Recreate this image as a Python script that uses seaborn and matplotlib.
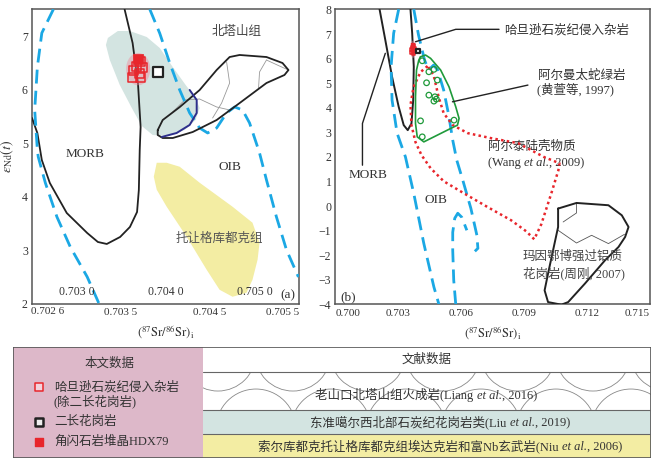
import numpy as np
import pandas as pd
import seaborn as sns
import matplotlib.pyplot as plt
from matplotlib.patches import Ellipse, Rectangle, Circle
from matplotlib.offsetbox import TextArea, HPacker, AnnotationBbox

sns.set_theme(style='white')
plt.rcParams['font.family'] = ['Liberation Serif', 'Noto Sans CJK SC']
plt.rcParams['mathtext.fontset'] = 'stix'

# ---------------- data ----------------
# this study: Hadanxun Carboniferous intrusive complex (open red squares)
hdx_sr = [0.703722, 0.703744, 0.703643, 0.703711, 0.703632, 0.703722, 0.703677]
hdx_nd = [6.515, 6.403, 6.365, 6.309, 6.234, 6.216, 6.440]
# hornblendite cumulate HDX79 (filled red square)
hbl_sr = [0.703688]
hbl_nd = [6.571]
# monzogranite (black square)
mzg_sr = [0.703912]
mzg_nd = [6.328]

# panel (a) fields
morb_a_x = [0.7025, 0.70256, 0.70261, 0.70270, 0.70289, 0.70312, 0.70324, 0.70334, 0.70349,
            0.70360, 0.70368, 0.70370, 0.70371, 0.70372, 0.70369, 0.70363, 0.70354]
morb_a_y = [5.468, 5.186, 4.682, 4.253, 3.692, 3.318, 3.150, 3.113, 3.244,
            3.431, 3.711, 4.122, 4.870, 5.300, 6.122, 6.870, 7.5]
oib_l_a_x = [0.70274, 0.70261, 0.70256, 0.70253, 0.70256, 0.70257, 0.70265, 0.70278, 0.70293, 0.70312, 0.70326]
oib_l_a_y = [7.5, 7.057, 6.421, 5.616, 4.869, 4.74, 4.254, 3.618, 3.057, 2.497, 1.97]
oib_r_a_x = [0.703823, 0.703935, 0.704047, 0.704159, 0.704271, 0.704383, 0.704473, 0.704574, 0.704686,
             0.704776, 0.704865, 0.704944, 0.705034, 0.705056, 0.705134, 0.705246, 0.705359, 0.705493]
oib_r_a_y = [7.5, 7.051, 6.496, 5.992, 5.562, 5.281, 5.188, 5.281, 5.562,
             5.674, 5.618, 5.375, 4.926, 4.814, 4.310, 3.618, 3.001, 2.496]
edj_x = [0.703352, 0.703464, 0.703599, 0.703789, 0.703935, 0.704081, 0.704226, 0.704338, 0.704383,
         0.704338, 0.704215, 0.704025, 0.703856, 0.703733, 0.703621, 0.703486, 0.703374, 0.703330]
edj_y = [6.964, 7.094, 7.094, 6.982, 6.777, 6.421, 6.085, 5.842, 5.655,
         5.431, 5.244, 5.132, 5.150, 5.319, 5.655, 6.085, 6.552, 6.833]
bts_x = [0.703912, 0.703968, 0.704159, 0.704383, 0.704574, 0.704720, 0.704832, 0.705134, 0.705314,
         0.705381, 0.705336, 0.705134, 0.704832, 0.704574, 0.704305, 0.704081, 0.703968, 0.703912]
bts_y = [5.242, 5.430, 5.672, 5.991, 6.365, 6.608, 6.646, 6.608, 6.496,
         6.365, 6.272, 6.122, 5.747, 5.430, 5.206, 5.094, 5.094, 5.150]
bts_inner_x = [0.704271, 0.704350, 0.704350, 0.704271, 0.704125, 0.703957]
bts_inner_y = [5.992, 5.805, 5.562, 5.338, 5.188, 5.113]
bts_hatch = [
    ([0.704081, 0.704215, 0.704383, 0.704574, 0.704720], [5.580, 5.805, 5.823, 5.674, 5.618]),
    ([0.704686, 0.704720, 0.704630, 0.704529], [6.515, 6.122, 5.747, 5.468]),
    ([0.705134, 0.705056, 0.705045], [6.552, 6.328, 6.029]),
    ([0.705134, 0.705280, 0.705381], [6.552, 6.440, 6.365]),
]
tgk_x = [0.703901, 0.704013, 0.704159, 0.704383, 0.704753, 0.704977, 0.705056, 0.705034, 0.704977,
         0.704910, 0.704753, 0.704607, 0.704462, 0.704237, 0.704013, 0.703901, 0.703868]
tgk_y = [4.631, 4.631, 4.557, 4.258, 3.809, 3.510, 3.136, 2.818, 2.444,
         2.201, 2.126, 2.257, 2.631, 3.248, 3.809, 4.127, 4.370]

# panel (b) fields
morb_b_x = [0.702102, 0.702376, 0.702698, 0.703014, 0.703254, 0.703446, 0.703624, 0.703706, 0.703734, 0.703658, 0.703576]
morb_b_y = [8.008, 6.758, 5.263, 4.041, 3.295, 3.092, 3.365, 4.314, 5.670, 7.031, 8.008]
oib_l_b_x = [0.703014, 0.702774, 0.702650, 0.702698, 0.702938, 0.703336, 0.703734, 0.704214, 0.704694, 0.704934]
oib_l_b_y = [8.008, 7.031, 5.670, 4.314, 2.969, 2.004, 0.513, -1.523, -3.291, -3.996]
oib_r_b_x = [0.703734, 0.703960, 0.704248, 0.704440, 0.704680, 0.704872, 0.705160, 0.705400, 0.705592,
             0.705784, 0.706072, 0.706456, 0.706744, 0.706792, 0.706648]
oib_r_b_y = [8.008, 6.961, 5.943, 5.536, 5.739, 5.536, 4.721, 3.703, 2.684,
             1.870, 1.055, -0.086, -1.185, -1.715, -1.837]
oib_h_b_x = [0.705736, 0.705640, 0.705592, 0.705592, 0.705688, 0.705832, 0.706024, 0.706264]
oib_h_b_y = [-3.996, -3.019, -1.796, -1.063, -0.493, -0.289, -0.452, -0.982]
altai_x = [0.704392, 0.704056, 0.703720, 0.703576, 0.703624, 0.703816, 0.704104, 0.704536, 0.705160,
           0.706120, 0.707272, 0.708376, 0.709096, 0.709480, 0.709816, 0.710296, 0.710632, 0.710680,
           0.709960, 0.708712, 0.707416, 0.706312, 0.705592, 0.705160, 0.704920, 0.704680, 0.704392]
altai_y = [5.699, 5.454, 4.843, 4.110, 3.295, 2.603, 2.073, 1.544, 1.014,
           0.525, -0.045, -0.574, -1.022, -1.348, -0.737, 0.525, 1.462, 1.747,
           1.992, 2.562, 2.766, 2.969, 3.295, 3.782, 4.436, 5.332, 5.699]
arm_x = [0.704056, 0.704296, 0.704536, 0.705016, 0.705414, 0.705736, 0.705894, 0.705818,
         0.705496, 0.704694, 0.704214, 0.703898, 0.703816, 0.703816, 0.703864, 0.703974]
arm_y = [6.077, 6.147, 6.012, 5.536, 4.855, 4.041, 3.568, 3.295,
         3.161, 2.819, 2.615, 2.819, 3.365, 4.448, 5.536, 5.943]
arm_pts_x = [0.704138, 0.704454, 0.704694, 0.704858, 0.704344, 0.704454, 0.704742, 0.704810,
             0.704694, 0.704056, 0.705654, 0.704138]
arm_pts_y = [5.914, 5.466, 5.564, 5.128, 5.018, 4.517, 4.448, 4.354,
             4.273, 3.470, 3.499, 2.819]
myb_x = [0.710618, 0.711496, 0.713018, 0.713656, 0.713978, 0.713814, 0.713498, 0.712854,
         0.711894, 0.711098, 0.710776, 0.710138, 0.709974, 0.710138, 0.710378, 0.710618]
myb_y = [-0.098, 0.130, 0.037, -0.371, -0.847, -1.255, -1.662, -2.204,
         -3.153, -3.902, -4.008, -3.902, -3.426, -2.745, -1.796, -0.847]
myb_hatch = [
    ([0.710618, 0.711496, 0.712216, 0.713018, 0.713786], [-0.982, -1.499, -1.186, -1.523, -1.145]),
    ([0.711496, 0.711496, 0.710858], [0.106, -0.277, -0.644]),
]

BLUE = '#1ba8e4'
RED = '#e8262c'
GREEN = '#1f9a3a'
TEAL = '#d3e4e1'
YELLOW = '#f3eda3'
PINK = '#ddb8c9'
GRAY = '#555555'
blue_dash = (0, (5, 2.6))


def closed(xs, ys):
    return list(xs) + [xs[0]], list(ys) + [ys[0]]


def mixed_text(ax, xy, parts, size, align=(0.5, 0.5), coords='data'):
    boxes = [TextArea(t, textprops=dict(fontsize=size, style=st, color='#333333')) for t, st in parts]
    pack = HPacker(children=boxes, align='baseline', pad=0, sep=0)
    ab = AnnotationBbox(pack, xy, xycoords=coords, frameon=False, box_alignment=align, pad=0)
    ax.add_artist(ab)


def style_axes(ax):
    for s in ax.spines.values():
        s.set_color(GRAY)
        s.set_linewidth(1.1)
    ax.tick_params(direction='in', length=4, width=0.9, color=GRAY, labelsize=8.5,
                   labelcolor='#333333', top=False, right=False, pad=3)
    ax.tick_params(axis='x', labelsize=8)


def this_study(ax, size, halo_pad_x, halo_pad_y):
    cx, cy = np.mean(hdx_sr + hbl_sr), np.mean(hdx_nd + hbl_nd)
    w = max(hdx_sr + hbl_sr) - min(hdx_sr + hbl_sr) + halo_pad_x
    h = max(hdx_nd + hbl_nd) - min(hdx_nd + hbl_nd) + halo_pad_y
    ax.add_patch(Ellipse((cx, cy), w, h, color='#f08a9c', alpha=0.45, lw=0, zorder=4))
    sns.scatterplot(x=hdx_sr, y=hdx_nd, marker='s', s=size, facecolor='none',
                    edgecolor=RED, linewidth=1.1, ax=ax, zorder=6)
    sns.scatterplot(x=hbl_sr, y=hbl_nd, marker='s', s=size, color=RED,
                    edgecolor=RED, ax=ax, zorder=6)
    sns.scatterplot(x=mzg_sr, y=mzg_nd, marker='s', s=size, facecolor='white',
                    edgecolor='#222222', linewidth=1.6, ax=ax, zorder=6)


fig = plt.figure(figsize=(6.59, 4.65), dpi=100)

# ---------------- panel (a) ----------------
ax = fig.add_axes([0.0486, 0.3473, 0.4052, 0.6327])
ax.fill(*closed(edj_x, edj_y), color=TEAL, lw=0, zorder=1)
ax.fill(*closed(tgk_x, tgk_y), color=YELLOW, lw=0, zorder=1)
ax.plot(morb_a_x, morb_a_y, color='#222222', lw=1.3, zorder=3)
ax.plot(oib_l_a_x, oib_l_a_y, color=BLUE, lw=2, linestyle=blue_dash, zorder=3)
ax.plot(oib_r_a_x, oib_r_a_y, color=BLUE, lw=2, linestyle=blue_dash, zorder=3)
for hx, hy in bts_hatch:
    ax.plot(hx, hy, color='#999999', lw=0.6, zorder=2)
ax.plot(*closed(bts_x, bts_y), color='#222222', lw=1.3, zorder=3)
ax.plot(bts_inner_x, bts_inner_y, color='#2e2f8c', lw=1.4, zorder=3)
this_study(ax, 42, 0.00016, 0.25)

ax.set_xlim(0.7025, 0.7055)
ax.set_ylim(2, 7.5)
ax.set_xticks([0.7030, 0.7035, 0.7040, 0.7045, 0.7050, 0.7055])
ax.set_xticklabels(['', '0.703 5', '', '0.704 5', '', '0.705 5'])
ax.get_xticklabels()[-1].set_horizontalalignment('right')
ax.set_yticks([2, 3, 4, 5, 6, 7])
style_axes(ax)
ax.text(0.70268, -0.012, '0.702 6', transform=ax.get_xaxis_transform(), ha='center', va='top',
        fontsize=8, color='#333333')
for xv, lab in zip([0.7030, 0.7040, 0.7050], ['0.703 0', '0.704 0', '0.705 0']):
    ax.text(xv, 0.04, lab, transform=ax.get_xaxis_transform(), ha='center', va='center',
            fontsize=8.5, color='#333333')
ax.set_xlabel(r'$(^{87}\mathrm{Sr}/^{86}\mathrm{Sr})_{\mathrm{i}}$', fontsize=9, labelpad=5, color='#333333')
ax.set_ylabel(r'$\varepsilon_{\mathrm{Nd}}(t)$', fontsize=10, labelpad=4, color='#333333')
ax.text(0.704798, 7.076, '北塔山组', ha='center', va='center', fontsize=9, color='#444444')
ax.text(0.703094, 4.795, 'MORB', ha='center', va='center', fontsize=9.5, color='#333333')
ax.text(0.704720, 4.557, 'OIB', ha='center', va='center', fontsize=9.5, color='#333333')
ax.text(0.704607, 3.207, '托让格库都克组', ha='center', va='center', fontsize=9, color='#555555')
ax.text(0.705370, 2.15, '(a)', ha='center', va='center', fontsize=9.5, color='#333333')

# ---------------- panel (b) ----------------
bx = fig.add_axes([0.5091, 0.3452, 0.4772, 0.6344])
bx.plot(morb_b_x, morb_b_y, color='#222222', lw=1.4, zorder=3)
bx.plot(oib_l_b_x, oib_l_b_y, color=BLUE, lw=2, linestyle=blue_dash, zorder=3)
bx.plot(oib_r_b_x, oib_r_b_y, color=BLUE, lw=2, linestyle=blue_dash, zorder=3)
bx.plot(oib_h_b_x, oib_h_b_y, color=BLUE, lw=2, linestyle=blue_dash, zorder=3)
bx.plot(*closed(altai_x, altai_y), color=RED, lw=1.8, linestyle=(0, (1, 1.3)), zorder=4)
bx.plot(*closed(arm_x, arm_y), color=GREEN, lw=1.2, zorder=5)
sns.scatterplot(x=arm_pts_x, y=arm_pts_y, marker='o', s=16, facecolor='none',
                edgecolor=GREEN, linewidth=0.9, ax=bx, zorder=5)
for hx, hy in myb_hatch:
    bx.plot(hx, hy, color='#555555', lw=0.6, zorder=2)
bx.plot(*closed(myb_x, myb_y), color='#222222', lw=1.4, zorder=3)
this_study(bx, 5, 0.00018, 0.35)

bx.set_xlim(0.700, 0.715)
bx.set_ylim(-4, 8)
bx.set_xticks([0.700, 0.703, 0.706, 0.709, 0.712, 0.715])
bx.set_xticklabels(['0.700', '0.703', '0.706', '0.709', '0.712', '0.715'])
bx.get_xticklabels()[0].set_horizontalalignment('left')
bx.get_xticklabels()[-1].set_horizontalalignment('right')
bx.set_yticks(range(-4, 9))
bx.set_yticklabels([str(v).replace('-', '\u2212') for v in range(-4, 9)])
style_axes(bx)
bx.set_xlabel(r'$(^{87}\mathrm{Sr}/^{86}\mathrm{Sr})_{\mathrm{i}}$', fontsize=9, labelpad=5, color='#333333')

lead = dict(color='#222222', lw=1.0, zorder=6)
bx.plot([0.703816, 0.705736, 0.707800], [6.688, 7.193, 7.193], **lead)
bx.text(0.708048, 7.15, '哈旦逊石炭纪侵入杂岩', ha='left', va='center', fontsize=9, color='#333333')
bx.plot([0.705578, 0.709178], [4.245, 4.925], **lead)
bx.text(0.709658, 5.29, '阿尔曼太蛇绿岩', ha='left', va='center', fontsize=9, color='#333333')
bx.text(0.709600, 4.75, '(黄萱等, 1997)', ha='left', va='center', fontsize=9, color='#333333')
bx.text(0.707258, 2.41, '阿尔泰陆壳物质', ha='left', va='center', fontsize=9, color='#333333')
mixed_text(bx, (0.707258, 1.735), [('(Wang ', 'normal'), ('et al.', 'italic'), (', 2009)', 'normal')],
           9, align=(0, 0.5))
bx.plot([0.701286, 0.701286, 0.702376], [1.666, 3.365, 6.216], **lead)
bx.text(0.701536, 1.26, 'MORB', ha='center', va='center', fontsize=9.5, color='#333333')
bx.text(0.704776, 0.24, 'OIB', ha='center', va='center', fontsize=9.5, color='#333333')
bx.text(0.708938, -2.07, '玛因鄂博强过铝质', ha='left', va='center', fontsize=9, color='#444444')
bx.text(0.708938, -2.75, '花岗岩(周刚, 2007)', ha='left', va='center', fontsize=9, color='#444444')
bx.text(0.700614, -3.7, '(b)', ha='center', va='center', fontsize=9.5, color='#333333')

# ---------------- legend table ----------------
tx = fig.add_axes([0.0197, 0.0150, 0.9681, 0.2387])
tx.set_xlim(0, 638)
tx.set_ylim(111, 0)
tx.axis('off')
tx.add_patch(Rectangle((0, 0), 190, 111, color=PINK, lw=0))
tx.add_patch(Rectangle((190, 63), 448, 24, color=TEAL, lw=0))
tx.add_patch(Rectangle((190, 87), 448, 24, color=YELLOW, lw=0))
row = Rectangle((190, 25), 448, 38, facecolor='none', lw=0)
tx.add_patch(row)
for k in range(7):
    c1 = Circle((205 + 75 * k, 6), 38, fill=False, ec='#888888', lw=0.6)
    c2 = Circle((243 + 75 * k, 82), 40, fill=False, ec='#888888', lw=0.6)
    for c in (c1, c2):
        tx.add_patch(c)
        c.set_clip_path(row)
for yv in (25, 63, 87):
    tx.plot([190, 638], [yv, yv], color='#666666', lw=0.8)
tx.add_patch(Rectangle((0, 0), 638, 111, fill=False, ec=GRAY, lw=1.2))

tx.text(97, 17, '本文数据', ha='center', va='center', fontsize=9, color='#333333')
tx.scatter([26], [40], marker='s', s=30, facecolor='#f3d3dc', edgecolor=RED, linewidth=1.1)
tx.text(41, 40, '哈旦逊石炭纪侵入杂岩', ha='left', va='center', fontsize=9, color='#333333')
tx.text(41, 54, '(除二长花岗岩)', ha='left', va='center', fontsize=9, color='#333333')
tx.scatter([26], [75], marker='s', s=30, facecolor='#eeeeee', edgecolor='#222222', linewidth=1.8)
tx.text(41, 75, '二长花岗岩', ha='left', va='center', fontsize=9, color='#333333')
tx.scatter([26], [95], marker='s', s=32, color=RED)
tx.text(41, 95, '角闪石岩堆晶HDX79', ha='left', va='center', fontsize=9, color='#333333')

tx.text(414, 12.5, '文献数据', ha='center', va='center', fontsize=9, color='#333333')
mixed_text(tx, (413, 48), [('老山口北塔山组火成岩(Liang ', 'normal'), ('et al.', 'italic'),
                           (', 2016)', 'normal')], 9)
mixed_text(tx, (427, 75), [('东准噶尔西北部石炭纪花岗岩类(Liu ', 'normal'), ('et al.', 'italic'),
                           (', 2019)', 'normal')], 9)
mixed_text(tx, (427, 99), [('索尔库都克托让格库都克组埃达克岩和富Nb玄武岩(Niu ', 'normal'), ('et al.', 'italic'),
                           (', 2006)', 'normal')], 9)

fig.savefig('out.png', dpi=100)
